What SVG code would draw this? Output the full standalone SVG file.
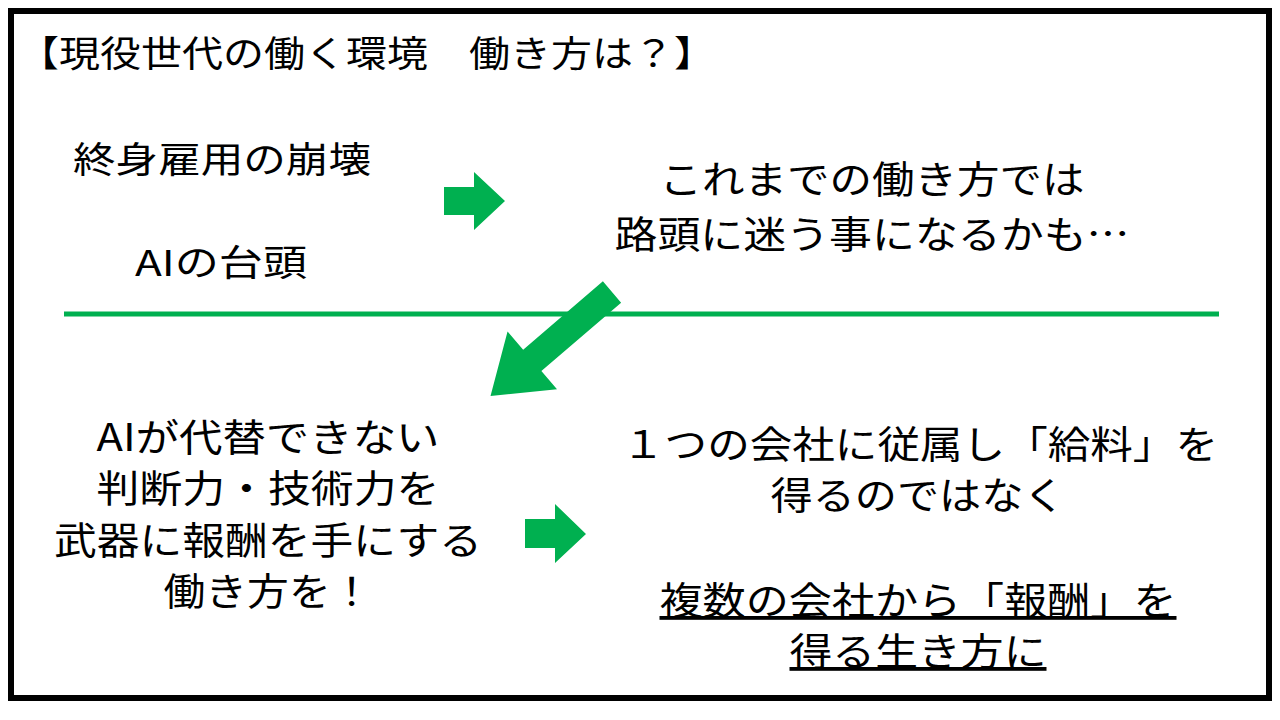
<svg xmlns="http://www.w3.org/2000/svg" width="1280" height="720" viewBox="0 0 1280 720">
<style>
text{font-family:"Noto Sans CJK JP","Noto Sans",sans-serif;fill:#000}
.arr{fill:#00b050}
.c{text-anchor:middle}
</style>
<rect x="0" y="0" width="1280" height="720" fill="#fff"/>
<rect x="11" y="11" width="1258" height="687" fill="none" stroke="#000" stroke-width="6"/>
<g id="title"><text x="18" y="67" font-size="36" textLength="697" lengthAdjust="spacingAndGlyphs">【現役世代の働く環境　働き方は？】</text></g>
<g id="n1"><text x="73" y="173" font-size="36" textLength="298" lengthAdjust="spacingAndGlyphs">終身雇用の崩壊</text></g>
<g id="n2"><text x="135" y="276" font-size="36" textLength="172" lengthAdjust="spacingAndGlyphs">AIの台頭</text></g>
<g id="n3"><text class="c" x="872" y="193" font-size="38" textLength="425" lengthAdjust="spacingAndGlyphs">これまでの働き方では</text><text class="c" x="872" y="248" font-size="38" textLength="515" lengthAdjust="spacingAndGlyphs">路頭に迷う事になるかも…</text></g>
<g id="n4"><text class="c" x="268" y="451" font-size="38" textLength="343" lengthAdjust="spacingAndGlyphs">AIが代替できない</text><text class="c" x="268" y="502" font-size="38" textLength="343" lengthAdjust="spacingAndGlyphs">判断力・技術力を</text><text class="c" x="268" y="554" font-size="38" textLength="428" lengthAdjust="spacingAndGlyphs">武器に報酬を手にする</text><text class="c" x="268" y="605" font-size="38" textLength="209" lengthAdjust="spacingAndGlyphs">働き方を！</text></g>
<g id="n5"><text class="c" x="920" y="458" font-size="38" textLength="596" lengthAdjust="spacingAndGlyphs">１つの会社に従属し「給料」を</text><text class="c" x="918" y="509" font-size="38" textLength="295" lengthAdjust="spacingAndGlyphs">得るのではなく</text>
<text class="c" x="918" y="614" font-size="38" text-decoration="underline" textLength="517" lengthAdjust="spacingAndGlyphs">複数の会社から「報酬」を</text><text class="c" x="918" y="665" font-size="38" text-decoration="underline" textLength="257" lengthAdjust="spacingAndGlyphs">得る生き方に</text></g>
<g id="connectors">
<line x1="64" y1="314" x2="1219" y2="314" stroke="#00b050" stroke-width="5"/>
<polygon class="arr" points="444,187 474,187 474,172 505,201 474,230 474,215 444,215"/>
<polygon class="arr" points="525,519 555,519 555,504 586,534 555,563 555,548 525,548"/>
<g transform="translate(612,292) rotate(139.4)"><polygon class="arr" points="0,-14 105,-14 105,-38 160,0 105,38 105,14 0,14"/></g>
</g>
</svg>
